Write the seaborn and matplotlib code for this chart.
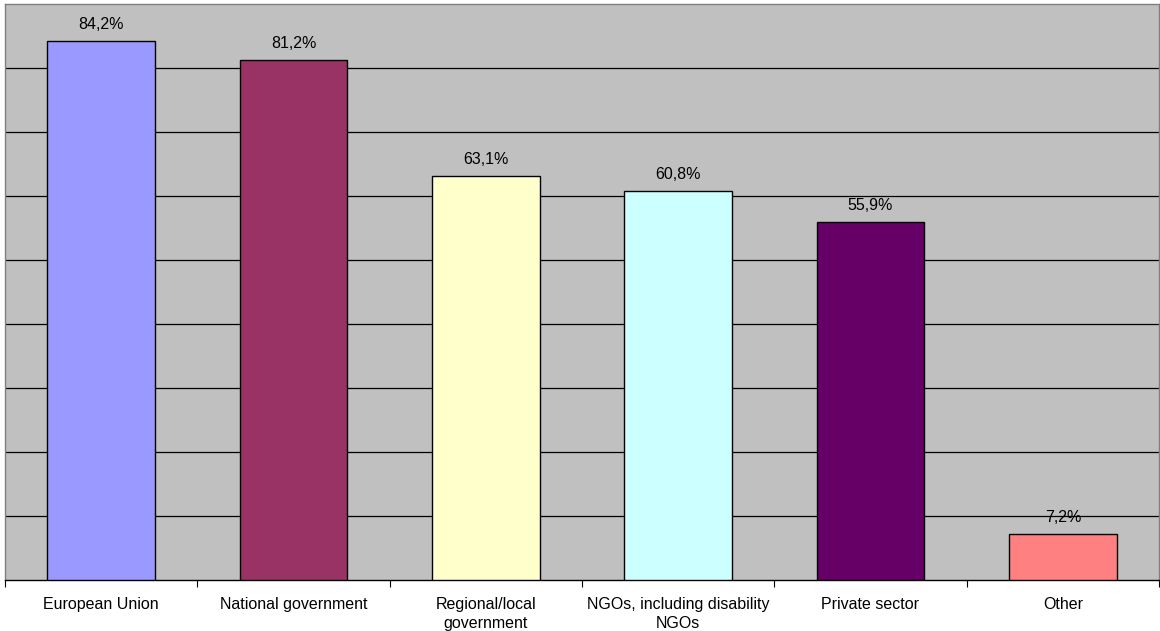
import matplotlib
matplotlib.use("Agg")
import matplotlib.pyplot as plt
import seaborn as sns
import pandas as pd
import numpy as np

categories = ["European Union", "National government", "Regional/local\ngovernment",
              "NGOs, including disability\nNGOs", "Private sector", "Other"]
values = [84.2, 81.2, 63.1, 60.8, 55.9, 7.2]
colors = ["#9999FF", "#993366", "#FFFFCC", "#CCFFFF", "#660066", "#FF8080"]

sns.set_style("white")
plt.rcParams["font.family"] = ["Liberation Sans", "DejaVu Sans"]
plt.rcParams["text.color"] = "black"
plt.rcParams["xtick.color"] = "black"

fig = plt.figure(figsize=(11.6, 6.31), dpi=100)
ax = fig.add_axes([5/1160, (631-580)/631, 1154/1160, 576/631])

df = pd.DataFrame({"cat": categories, "val": values})
sns.barplot(data=df, x="cat", y="val", hue="cat", palette=colors, legend=False,
            width=0.56, edgecolor="black", linewidth=1, ax=ax, zorder=3, saturation=1)

ax.set_facecolor("#C0C0C0")
ax.set_ylim(0, 90)
ax.set_xlim(-0.5, len(categories) - 0.5)
ax.set_yticks(np.arange(10, 90, 10))
ax.yaxis.grid(True, color="black", linewidth=0.9, zorder=0)
ax.set_axisbelow(True)
ax.tick_params(axis="y", left=False, labelleft=False)
ax.set_xlabel("")
ax.set_ylabel("")

ax.set_xticks(np.arange(len(categories)))
ax.set_xticklabels(categories, fontsize=11.5, color="black", linespacing=1.35)
ax.tick_params(axis="x", which="major", length=0, pad=12, bottom=True)
ax.set_xticks(np.arange(-0.5, len(categories), 1), minor=True)
ax.tick_params(axis="x", which="minor", length=5, color="black", width=0.8, bottom=True)

for c in ax.containers:
    ax.bar_label(c, labels=[f"{v:.1f}%".replace(".", ",") for v in c.datavalues],
                 padding=6.5, fontsize=11.5, color="black")

for s in ["top", "left", "right"]:
    ax.spines[s].set_color("#808080")
    ax.spines[s].set_linewidth(1)
ax.spines["bottom"].set_color("black")
ax.spines["bottom"].set_linewidth(1)

fig.savefig("out.png", dpi=100)
